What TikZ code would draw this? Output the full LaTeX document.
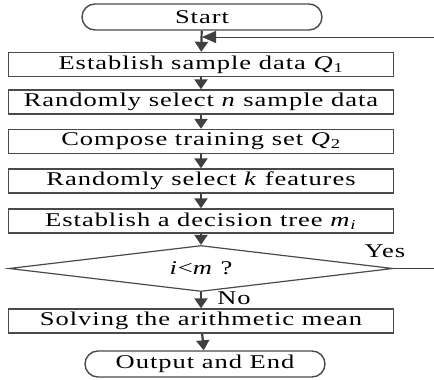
\documentclass[tikz,border=0pt]{standalone}
\usepackage{fontspec}
\setmainfont{Liberation Serif}
\usetikzlibrary{shapes.geometric,shapes.misc,arrows.meta}
\definecolor{edgegray}{HTML}{4A4A4A}
\definecolor{flowgray}{HTML}{404040}
\newcommand{\flowfont}{\fontsize{19.5}{21}\selectfont\addfontfeature{FakeStretch=1.36,LetterSpace=5}}
\begin{document}
\begin{tikzpicture}[x=1pt,y=-1pt,
  stepbox/.style={draw=edgegray, line width=1.4pt, minimum width=385pt,
    minimum height=24pt, inner sep=0pt, font=\flowfont},
  termbox/.style={draw=edgegray, line width=1.4pt, rounded rectangle,
    minimum width=240pt, minimum height=26pt, inner sep=0pt, font=\flowfont},
  testbox/.style={draw=edgegray, line width=1.2pt, diamond, aspect=8.5,
    minimum width=384pt, minimum height=46pt, inner sep=0pt, font=\flowfont},
  flow/.style={draw=flowgray, line width=2.2pt,
    -{Triangle[length=10pt,width=13pt]}},
  loopback/.style={draw=flowgray, line width=1pt,
    -{Triangle[length=14pt,width=12pt]}},
  lbl/.style={font=\flowfont, inner sep=0pt}
]
\useasboundingbox (0,0) rectangle (434,380);
\clip (0,0) rectangle (434,380);

\node[termbox] (start) at (202,17) {Start};
\node[stepbox] (b1) at (201,64.5)  {Establish sample data \textit{Q}\textsubscript{1}};
\node[stepbox] (b2) at (201,102)   {Randomly select \textit{n} sample data};
\node[stepbox] (b3) at (201,141.5) {Compose training set \textit{Q}\textsubscript{2}};
\node[stepbox] (b4) at (201,181)   {Randomly select \textit{k} features};
\node[stepbox] (b5) at (201,221)   {Establish a decision tree \textit{m}\textsubscript{\textit{i}}};
\node[testbox] (test) at (201,268.5) {\textit{i}<\textit{m} ?};
\node[stepbox] (b6) at (201,321)   {Solving the arithmetic mean};
\node[termbox] (stop) at (205,364) {Output and End};

\coordinate (join) at (202,37);

\draw[flow] (start) -- (b1);
\draw[flow] (b1) -- (b2);
\draw[flow] (b2) -- (b3);
\draw[flow] (b3) -- (b4);
\draw[flow] (b4) -- (b5);
\draw[flow] (b5) -- (test);
\draw[flow] (test) -- (b6);
\draw[flow] (b6) -- (stop);
\draw[loopback] (test.east) -- (437,268.5) |- (join);

\node[lbl] (yes) at (385,251) {Yes};
\node[lbl] (no) at (234,298) {No};
\end{tikzpicture}
\end{document}
